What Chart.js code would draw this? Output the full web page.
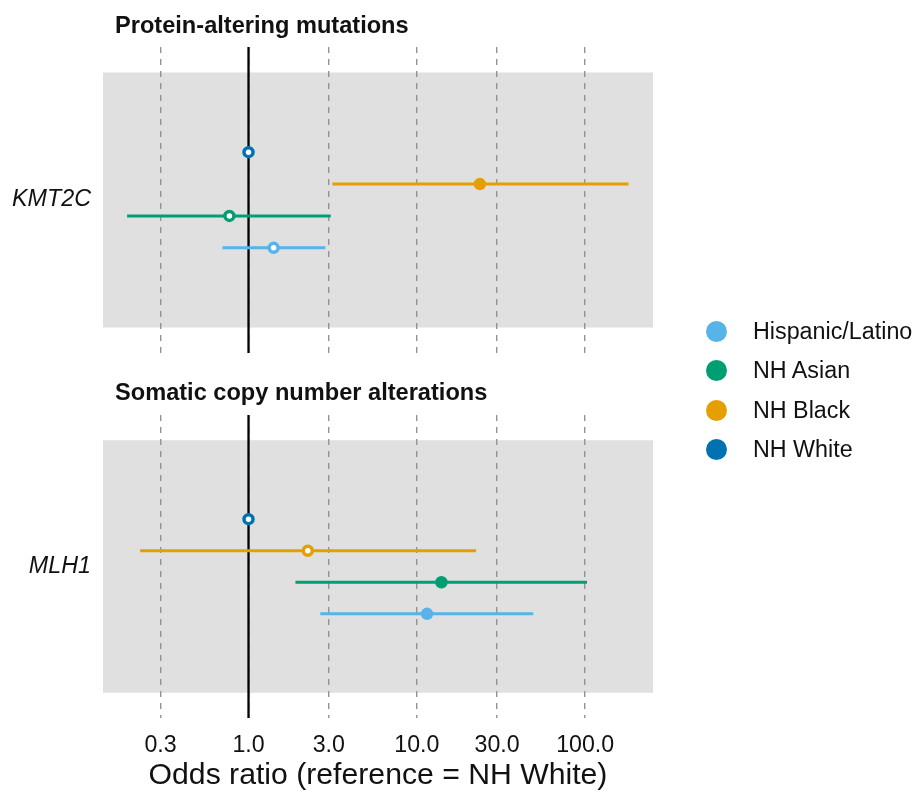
<!DOCTYPE html>
<html>
<head>
<meta charset="utf-8">
<script src="https://cdn.jsdelivr.net/npm/chart.js@4.4.1/dist/chart.umd.min.js"></script>
<style>
  body { margin: 0; background: #fff; font-family: "Liberation Sans", Arial, sans-serif; }
  #wrap { position: relative; width: 919px; height: 791px; }
  canvas { position: absolute; left: 0; }
  .strip { position: absolute; left: 115px; font-weight: bold; font-size: 23.6px; line-height: 23.6px; color: #111; white-space: nowrap; }
  #legend { position: absolute; left: 706px; top: 312px; }
  .row { display: flex; align-items: center; height: 39.3px; font-size: 23.3px; line-height: 23.3px; color: #111; white-space: nowrap; }
  .dot { width: 21px; height: 21px; border-radius: 50%; margin-right: 26px; }
</style>
</head>
<body>
<div id="wrap">
  <canvas id="top" width="919" height="379" style="top:0"></canvas>
  <canvas id="bottom" width="919" height="431" style="top:360px"></canvas>
  <div class="strip" id="title0" style="top:14px"></div>
  <div class="strip" id="title1" style="top:381px"></div>
  <div id="legend"></div>
</div>
<script>
// groups (legend order) and colours
const groups = ['Hispanic/Latino', 'NH Asian', 'NH Black', 'NH White'];
const colors = ['#56B4E9', '#009E73', '#E69F00', '#0072B2'];

// panels
const panelTitles = ['Protein-altering mutations', 'Somatic copy number alterations'];
const genes = ['KMT2C', 'MLH1'];

// odds ratios with 95% CI, per group
const orKMT2C = [1.41, 0.77, 23.7, 1.0];
const loKMT2C = [0.70, 0.19, 3.15, 1.0];
const hiKMT2C = [2.86, 3.08, 181, 1.0];
const sigKMT2C = [false, false, true, false];

const orMLH1 = [11.5, 14.0, 2.25, 1.0];
const loMLH1 = [2.67, 1.90, 0.227, 1.0];
const hiMLH1 = [49.2, 102.6, 22.5, 1.0];
const sigMLH1 = [true, true, false, false];

const xTicks = [0.3, 1, 3, 10, 30, 100];
const xMin = 0.1366, xMax = 253;
const yMin = 0.4, yMax = 1.6;

const FONT = '"Liberation Sans", Arial, sans-serif';

// grey panel band behind grid
const panelBg = {
  id: 'panelBg',
  beforeDraw(chart) {
    const { ctx, chartArea, scales } = chart;
    const y1 = scales.y.getPixelForValue(1.5);
    const y2 = scales.y.getPixelForValue(0.5);
    ctx.save();
    ctx.fillStyle = '#E0E0E0';
    ctx.fillRect(chartArea.left, y1, chartArea.right - chartArea.left, y2 - y1);
    ctx.restore();
  }
};

function makePanel(canvasId, gene, or, lo, hi, sig, showAxis) {
  const datasets = [];
  groups.forEach((g, i) => {
    const pos = 1 + (i - 1.5) * 0.125;
    datasets.push({
      label: g,
      data: [{ x: or[i], y: pos }],
      pointRadius: 4.5,
      pointBorderWidth: 3.5,
      pointBorderColor: colors[i],
      pointBackgroundColor: sig[i] ? colors[i] : '#ffffff',
      showLine: false,
      order: 0
    });
    datasets.push({
      label: g + ' CI',
      data: [{ x: lo[i], y: pos }, { x: hi[i], y: pos }],
      showLine: true,
      borderColor: colors[i],
      borderWidth: 3,
      pointRadius: 0,
      order: 1
    });
  });
  // reference line at OR = 1
  datasets.push({
    label: 'ref',
    data: [{ x: 1, y: yMin }, { x: 1, y: yMax }],
    showLine: true,
    borderColor: '#000',
    borderWidth: 2.3,
    pointRadius: 0,
    order: 2
  });

  return new Chart(document.getElementById(canvasId), {
    type: 'scatter',
    data: { datasets },
    plugins: [panelBg],
    options: {
      responsive: false,
      animation: false,
      events: [],
      layout: { padding: showAxis ? { top: 55, right: 266, bottom: 0, left: 0 } : { top: 47, right: 266, bottom: 8, left: 0 } },
      plugins: { legend: { display: false }, tooltip: { enabled: false } },
      scales: {
        x: {
          type: 'logarithmic',
          min: xMin,
          max: xMax,
          afterBuildTicks: s => { s.ticks = xTicks.map(v => ({ value: v })); },
          afterFit: s => { s.height = showAxis ? 73 : 0; },
          grid: { color: '#939393', lineWidth: 1.4, drawTicks: false },
          border: { display: false, dash: [6, 6] },
          ticks: {
            display: showAxis,
            autoSkip: false,
            maxRotation: 0,
            padding: 14,
            color: '#111',
            font: { family: FONT, size: 23.2 },
            callback: v => Number(v).toFixed(1)
          },
          title: {
            display: showAxis,
            text: 'Odds ratio (reference = NH White)',
            color: '#111',
            font: { family: FONT, size: 30.2, lineHeight: 1 },
            padding: { top: 0, bottom: 0 }
          }
        },
        y: {
          type: 'linear',
          min: yMin,
          max: yMax,
          afterBuildTicks: s => { s.ticks = [{ value: 1 }]; },
          afterFit: s => { s.width = 103; },
          grid: { display: false, drawTicks: false },
          border: { display: false },
          ticks: {
            padding: 12,
            color: '#111',
            font: { family: FONT, size: 23.3, style: 'italic' },
            callback: () => gene
          }
        }
      }
    }
  });
}

makePanel('top', genes[0], orKMT2C, loKMT2C, hiKMT2C, sigKMT2C, false);
makePanel('bottom', genes[1], orMLH1, loMLH1, hiMLH1, sigMLH1, true);

document.getElementById('title0').textContent = panelTitles[0];
document.getElementById('title1').textContent = panelTitles[1];

const legend = document.getElementById('legend');
groups.forEach((g, i) => {
  const row = document.createElement('div');
  row.className = 'row';
  const dot = document.createElement('div');
  dot.className = 'dot';
  dot.style.background = colors[i];
  const txt = document.createElement('span');
  txt.textContent = g;
  row.appendChild(dot);
  row.appendChild(txt);
  legend.appendChild(row);
});
</script>
</body>
</html>
